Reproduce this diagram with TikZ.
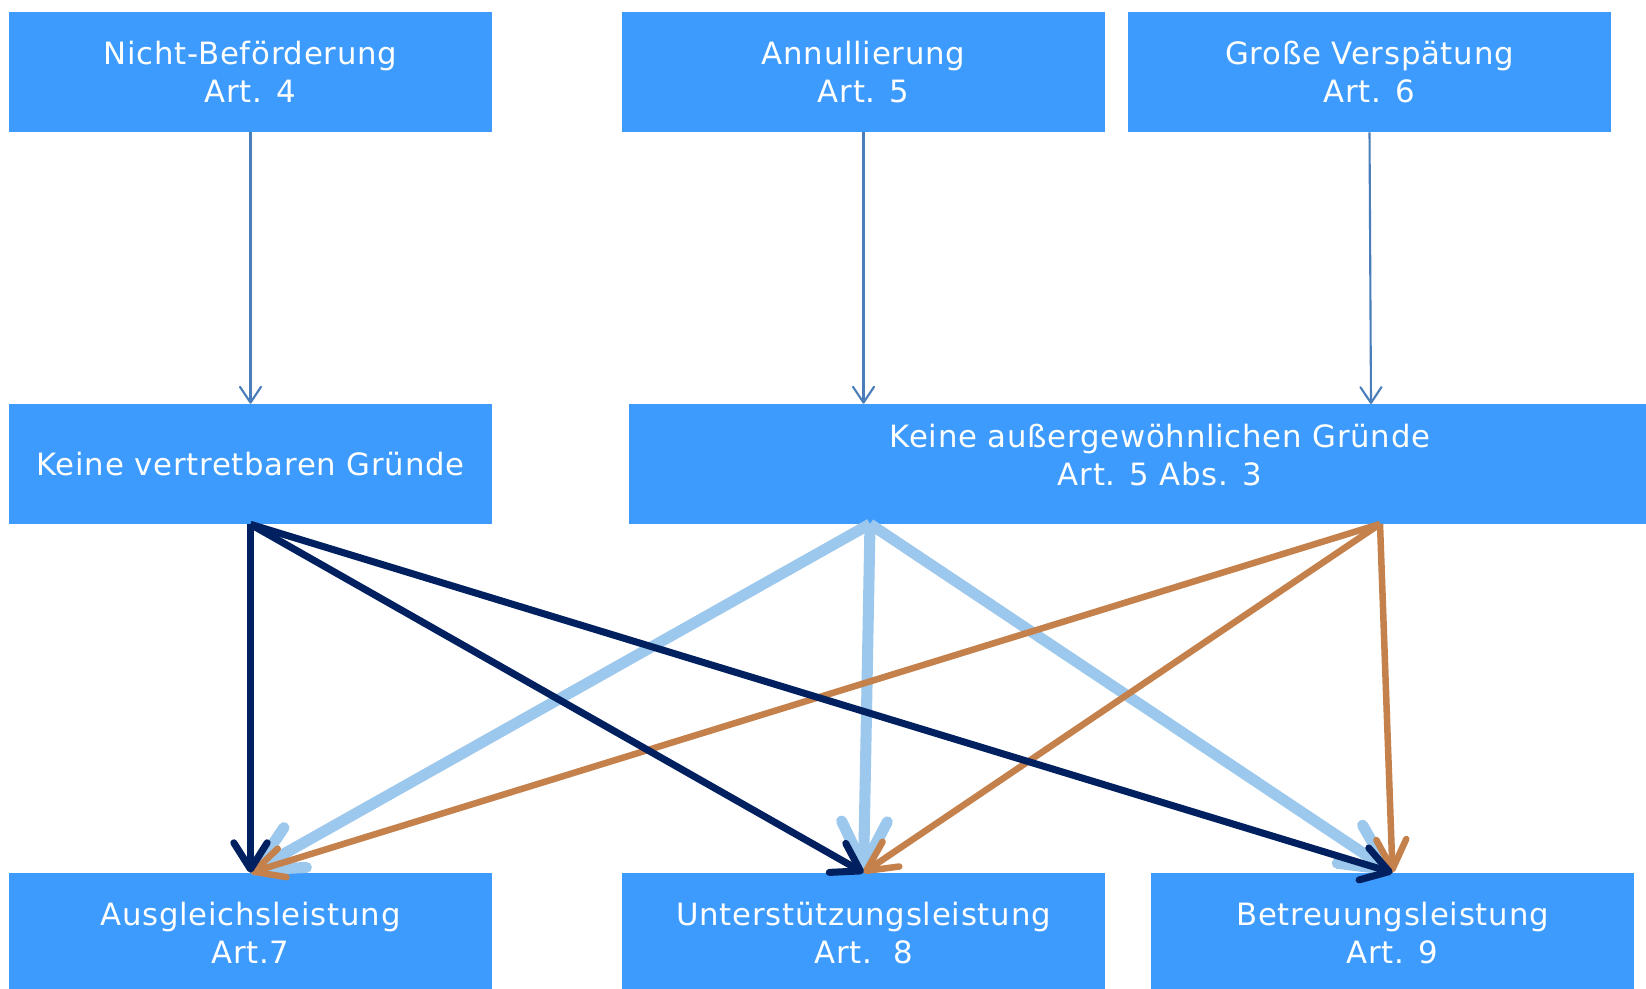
\documentclass[tikz,border=0pt]{standalone}
\usepackage{fontspec}
\setmainfont{DejaVu Sans}[LetterSpace=2.5]
\usetikzlibrary{arrows.meta}
\usetikzlibrary{positioning}
\definecolor{boxblue}{HTML}{3D9BFE}
\definecolor{feedblue}{HTML}{4A7EBB}
\definecolor{navyline}{HTML}{002060}
\definecolor{paleline}{HTML}{9BC8EC}
\definecolor{rustline}{HTML}{C5814B}

\begin{document}
\begin{tikzpicture}[x=0.02cm, y=-0.02cm,
    box/.style={fill=boxblue, minimum width=9.66cm, minimum height=2.4cm, inner sep=0pt},
    boxtext/.style={text=white, align=center, font=\fontsize{17.5pt}{21.8pt}\selectfont},
    feed/.style={feedblue, line width=1.2pt, -{Straight Barb[length=9pt,width=12pt,round]}},
    fromkvg/.style={navyline, line width=4pt, -{Straight Barb[length=15pt,width=19pt,round]}},
    fromkagl/.style={paleline, line width=6.3pt, -{Straight Barb[length=26pt,width=26pt,round]}},
    fromkagr/.style={rustline, line width=3.7pt, -{Straight Barb[length=17pt,width=17pt,round]}}
  ]
    \clip (0,0) rectangle (1646,989);
    \fill[white] (0,0) rectangle (1646,989);

    \node[box, boxtext] (nb) at (250.5,72) {Nicht-Beförderung\\Art. 4};
    \node[box, boxtext] (an) at (863.5,72) {Annullierung\\Art. 5};
    \node[box, boxtext] (gv) at (1369.5,72) {Große Verspätung\\Art. 6};

    \node[box, boxtext] (kvg) at (250.5,464) {Keine vertretbaren Gründe};
    \node[box, minimum width=21.24cm] (kag) at (1160,464) {};
    \node[boxtext] (kag-text) at (1160,455) {Keine außergewöhnlichen Gründe\\Art. 5 Abs. 3};

    \node[box, boxtext] (ag) at (250.5,933) {Ausgleichsleistung\\Art.7};
    \node[box, boxtext] (us) at (863.5,933) {Unterstützungsleistung\\Art.~~8};
    \node[box, boxtext] (be) at (1392.5,933) {Betreuungsleistung\\Art. 9};

    \coordinate (kag-in) at (1371,404);
    \coordinate (kag-left) at (870,524);
    \coordinate (kag-right) at (1380,524);

    \draw[feed] (nb.south) -- (kvg.north);
    \draw[feed] (an.south) -- (an.south |- kag.north);
    \draw[feed] (gv.south) -- (kag-in);

    \foreach \goal in {ag,us,be}
        \draw[fromkagl] (kag-left) -- (\goal.north);
    \foreach \goal in {ag,us,be}
        \draw[fromkagr] (kag-right) -- (\goal.north);
    \foreach \goal in {ag,us,be}
        \draw[fromkvg] (kvg.south) -- (\goal.north);
\end{tikzpicture}
\end{document}
